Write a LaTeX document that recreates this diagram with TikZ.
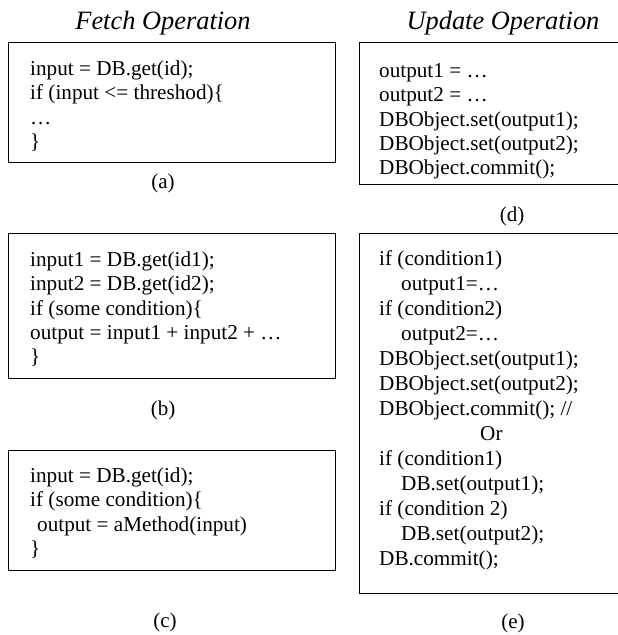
\documentclass[tikz,border=0pt]{standalone}
\usepackage{fontspec}
\setmainfont{Liberation Serif}
\usetikzlibrary{positioning}

\begin{document}
\begin{tikzpicture}[%
		x=1pt,
		y=-1pt,
		codebox/.style={%
			draw,
			line width=1.4pt,
			inner sep=0pt,
			anchor=north west
		},
		code/.style={%
			anchor=north west,
			align=left,
			inner sep=0pt,
			font=\fontsize{21.2}{24.4}\selectfont
		},
		caption/.style={%
			anchor=base,
			inner sep=0pt,
			font=\fontsize{21}{24}\selectfont
		},
		optitle/.style={%
			anchor=base,
			inner sep=0pt,
			font=\fontsize{26.4}{30}\selectfont\itshape
		}
		]
		\useasboundingbox (0,0) rectangle (618,635);
		\clip (0,0) rectangle (618,635);
		
		% titles
		\node[optitle] (fetchT) at (163,29) {Fetch Operation};
		\node[optitle] (updT)   at (503,29) {Update Operation};
		
		% fetch side
		\node[codebox, minimum width=327, minimum height=120] (boxA) at (8,42)  {};
		\node[codebox, minimum width=327, minimum height=145] (boxB) at (8,233) {};
		\node[codebox, minimum width=327, minimum height=120] (boxC) at (8,450) {};
		
		% first line carries a \strut, so its baseline sits .7\baselineskip below the node top
		\node[code] (codeA) at ([shift={(22,16)}]boxA.north west)
		{\strut input = DB.get(id);\\ if (input <= threshod)\{\\ …\\ \}};
		\node[code] (codeB) at ([shift={(22,16)}]boxB.north west)
		{\strut input1 = DB.get(id1);\\ input2 = DB.get(id2);\\ if (some condition)\{\\ output = input1 + input2 + …\\ \}};
		\node[code] (codeC) at ([shift={(22,15)}]boxC.north west)
		{\strut input = DB.get(id);\\ if (some condition)\{\\ \hspace{7pt}output = aMethod(input)\\ \}};
		
		% update side
		\node[codebox, minimum width=280, minimum height=142] (boxD) at (359,42)  {};
		\node[codebox, minimum width=280, minimum height=360] (boxE) at (359,233) {};
		
		\node[code] (codeD) at ([shift={(20,18)}]boxD.north west)
		{\strut output1 = …\\ output2 = …\\ DBObject.set(output1);\\ DBObject.set(output2);\\ DBObject.commit();};
		\node[code, font=\fontsize{21.2}{25}\selectfont] (codeE) at ([shift={(20,14.5)}]boxE.north west)
		{\strut if (condition1)\\ \hspace{22pt}output1=…\\ if (condition2)\\ \hspace{22pt}output2=…\\
		 DBObject.set(output1);\\ DBObject.set(output2);\\ DBObject.commit(); //\\ \hspace{101pt}Or\\
		 if (condition1)\\ \hspace{22pt}DB.set(output1);\\ if (condition 2)\\ \hspace{22pt}DB.set(output2);\\ DB.commit();};
		
		% captions
		\node[caption] (capA) at (163,188) {(a)};
		\node[caption] (capB) at (163,415) {(b)};
		\node[caption] (capC) at (165,627) {(c)};
		\node[caption] (capD) at (512,221) {(d)};
		\node[caption] (capE) at (513,628) {(e)};
\end{tikzpicture}
\end{document}
